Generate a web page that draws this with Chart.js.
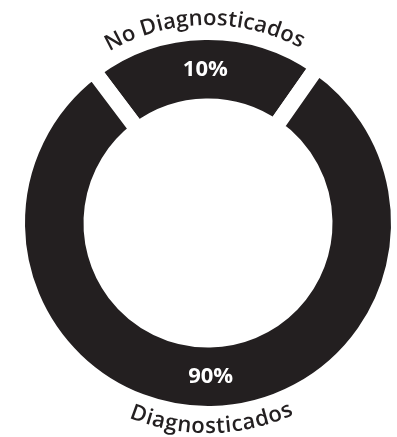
<!DOCTYPE html>
<html>
<head>
<meta charset="utf-8">
<script src="https://cdn.jsdelivr.net/npm/chart.js@4"></script>
<style>
html,body{margin:0;padding:0;background:#fff;overflow:hidden;}
#wrap{width:440px;height:437px;}
</style>
</head>
<body>
<div id="wrap"><canvas id="donut" width="440" height="437"></canvas></div>
<script>
const categories=['No Diagnosticados','Diagnosticados'];
// the drawn arcs are not to scale: the small slice covers about 72 degrees
const arcShares=[20,80];
const pctLabels=['10%','90%'];

const ink='#231f20';
const ctx=document.getElementById('donut').getContext('2d');

/* texto curvo alrededor del anillo */
function arcText(g,text,cx,cy,r,mid,top,track){
  const ws=[...text].map(ch=>g.measureText(ch).width+track);
  const total=ws.reduce((s,w)=>s+w,0)-track;
  let ang=top?mid-total/(2*r):mid+total/(2*r);
  [...text].forEach((ch,k)=>{
    const w=ws[k]-track;
    const a=top?ang+w/(2*r):ang-w/(2*r);
    g.save();
    g.translate(cx+r*Math.cos(a),cy+r*Math.sin(a));
    g.rotate(top?a+Math.PI/2:a-Math.PI/2);
    g.fillText(ch,0,0);
    g.restore();
    ang+=top?ws[k]/r:-ws[k]/r;
  });
}

Chart.register({
  id:'donutLabels',
  afterDatasetsDraw(c){
    const g=c.ctx;
    const arcs=c.getDatasetMeta(0).data;
    g.save();
    arcs.forEach((el,i)=>{
      /* porcentaje */
      const p=el.tooltipPosition();
      g.fillStyle='#fff';
      g.font='bold 22px "Open Sans"';
      g.textAlign='center';g.textBaseline='middle';
      g.fillText(pctLabels[i],p.x,p.y);
      /* categoría */
      const mid=(el.startAngle+el.endAngle)/2;
      const top=Math.sin(mid)<0;
      g.fillStyle=ink;
      g.font='600 22px "Open Sans"';
      g.textAlign='center';g.textBaseline='alphabetic';
      arcText(g,categories[i],el.x,el.y,el.outerRadius+(top?7:19),mid,top,top?0.1:0.6);
    });
    g.restore();
  }
});

new Chart(ctx,{
  type:'doughnut',
  data:{labels:categories,datasets:[{data:arcShares,backgroundColor:ink,borderColor:'#fff',borderWidth:16,borderJoinStyle:'miter',hoverOffset:0}]},
  options:{
    responsive:false,animation:false,
    rotation:-37,cutout:'61%',
    layout:{padding:{left:9,right:33,top:24,bottom:15}},
    plugins:{legend:{display:false},tooltip:{enabled:false}}
  }
});
</script>
</body>
</html>
